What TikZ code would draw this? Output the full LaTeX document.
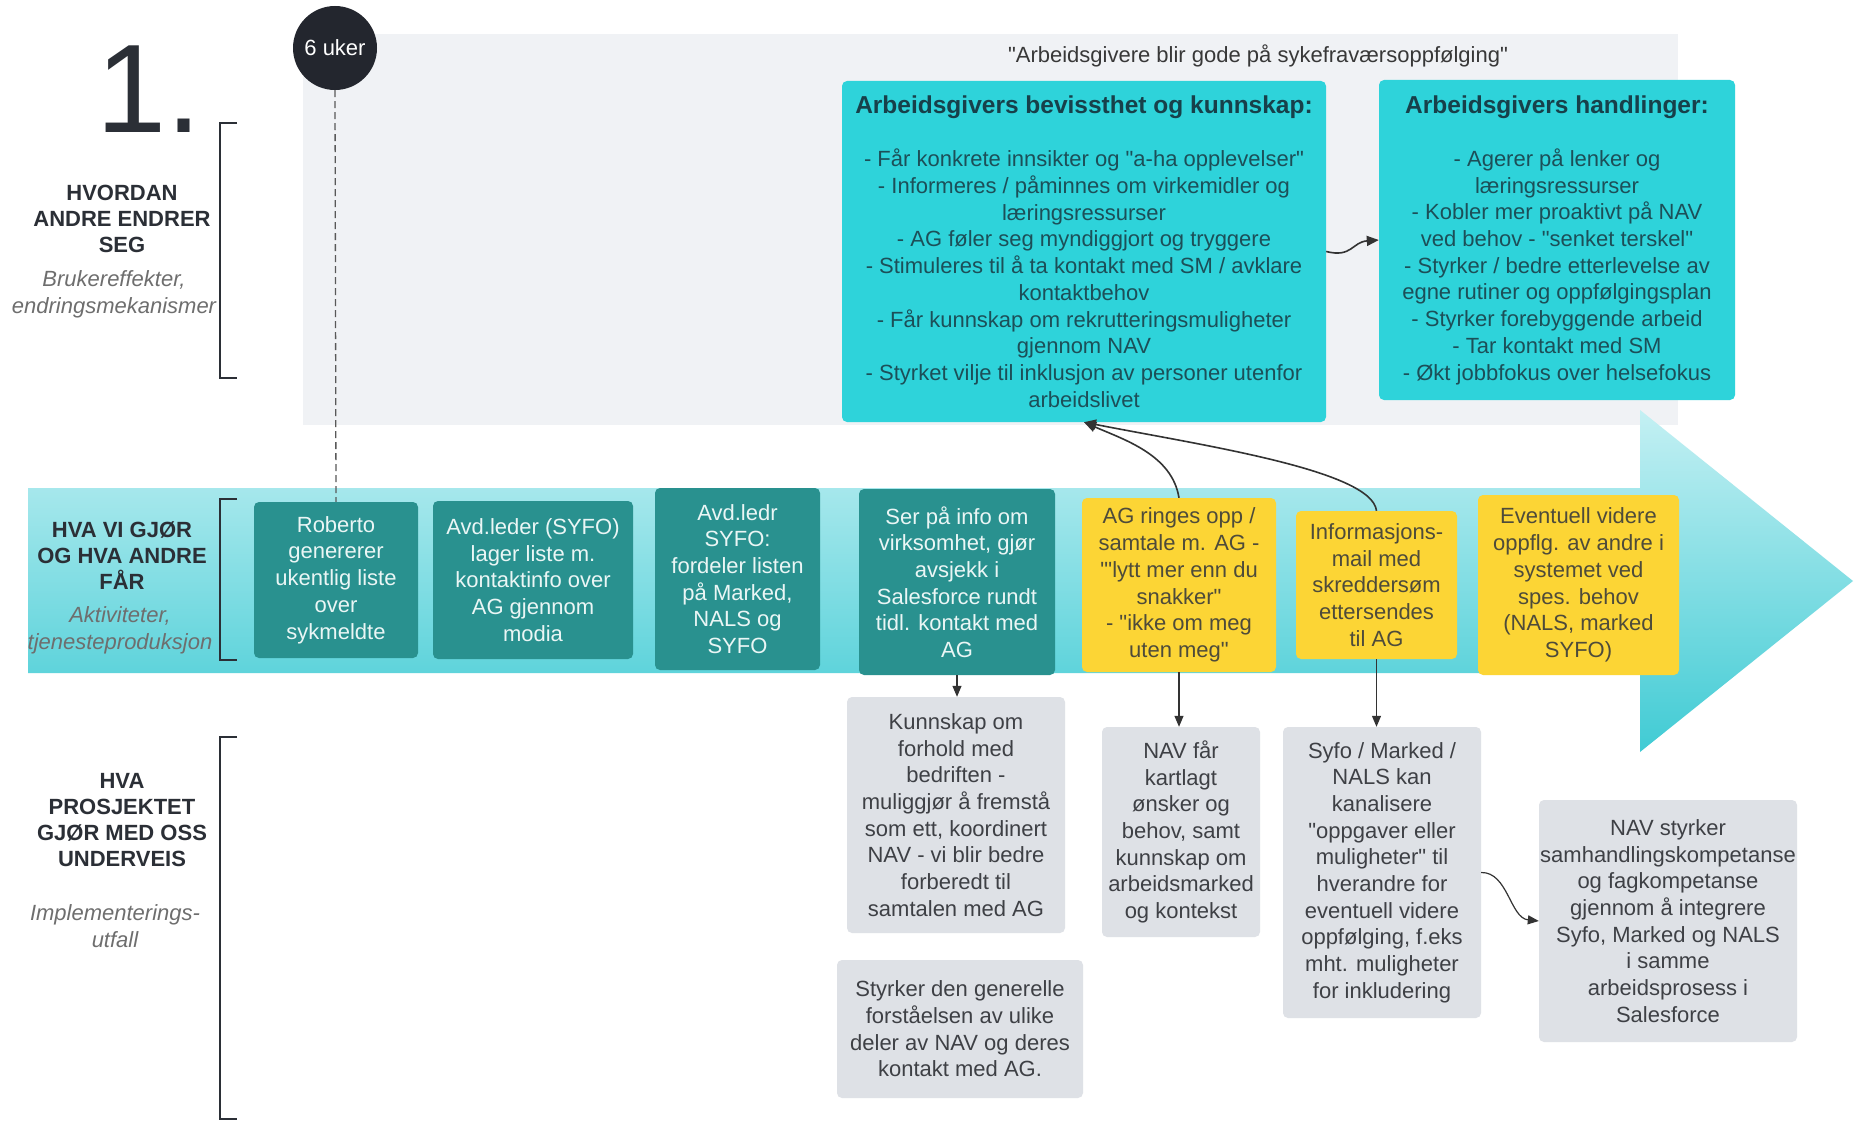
\documentclass[tikz,border=0pt]{standalone}
\usepackage{fontspec}
\setmainfont{Liberation Sans}[Ligatures=TeXOff]
\usetikzlibrary{arrows.meta}
\definecolor{grayreg}{HTML}{F0F2F5}
\definecolor{turq}{HTML}{2ED3DA}
\definecolor{turqtxt}{HTML}{1C4F58}
\definecolor{turqtitle}{HTML}{17404A}
\definecolor{tealc}{HTML}{29918F}
\definecolor{tealtxt}{HTML}{EAF6F5}
\definecolor{yel}{HTML}{FCD535}
\definecolor{yeltxt}{HTML}{4E4B3A}
\definecolor{grb}{HTML}{DEE1E6}
\definecolor{grbtxt}{HTML}{3E4045}
\definecolor{circc}{HTML}{23262E}
\definecolor{lbl}{HTML}{2B2F36}
\definecolor{subc}{HTML}{6E6E6E}
\definecolor{bandtop}{HTML}{C4F0F3}
\definecolor{bandbot}{HTML}{40CBD4}
\definecolor{arrc}{HTML}{333333}
\newcommand\bodyfnt{\fontsize{22}{26.7}\selectfont}
\newcommand\titlefnt{\fontsize{24.5}{26.7}\selectfont\bfseries}
\tikzset{
  boxbase/.style={rounded corners=5pt, inner sep=0pt, align=center, font=\bodyfnt},
  turqbox/.style={boxbase, fill=turq, text=turqtxt},
  tealbox/.style={boxbase, fill=tealc, text=tealtxt},
  yelbox/.style={boxbase, fill=yel, text=yeltxt},
  grbox/.style={boxbase, fill=grb, text=grbtxt},
  seclbl/.style={align=center, inner sep=0pt, text=lbl, font=\fontsize{22}{26}\selectfont\bfseries},
  sublbl/.style={align=center, inner sep=0pt, text=subc, font=\fontsize{22}{27}\selectfont\itshape},
  brk/.style={draw=lbl, line width=2pt},
  arr/.style={draw=arrc, line width=1.6pt, -{Triangle[length=12pt,width=10pt]}},
  arrthin/.style={draw=arrc, line width=1.2pt, -{Triangle[length=11pt,width=9pt]}},
  dashln/.style={draw=black!65, line width=1.3pt, dash pattern=on 7pt off 4pt}
}
\begin{document}
\begin{tikzpicture}[x=1pt,y=-1pt]
\useasboundingbox (0,0) rectangle (1856,1121);
\fill[white] (0,0) rectangle (1856,1121);
% background region
\fill[grayreg] (303,34) rectangle (1678,425);
% band arrow
\shade[top color=bandtop, bottom color=bandbot]
  (28,488) -- (1640,488) -- (1640,410) -- (1853,581) -- (1640,752) -- (1640,673) -- (28,673) -- cycle;
% quote
\node[inner sep=0pt, text=black!78, font=\fontsize{22}{24}\selectfont] (quote) at (1258,56)
  {"Arbeidsgivere blir gode på sykefraværsoppfølging"};
% big number
\node[anchor=base west, inner sep=0pt, text=lbl, font=\fontsize{126}{126}\selectfont] (num) at (96,133) {1.};
% circle
\node[circle, fill=circc, minimum size=84, inner sep=0pt, text=white, font=\fontsize{22}{24}\selectfont] (c6) at (335,48) {6 uker};
% section labels
\node[seclbl] (l1) at (122,218.5) {HVORDAN\\ANDRE ENDRER\\SEG};
\node[sublbl] (s1) at (114,294.5) {Brukereffekter,\\endringsmekanismer};
\node[seclbl] (l2) at (122,556) {HVA VI GJØR\\OG HVA ANDRE\\FÅR};
\node[sublbl] (s2) at (120,630.5) {Aktiviteter,\\tjenesteproduksjon};
\node[seclbl] (l3) at (122,820) {HVA\\PROSJEKTET\\GJØR MED OSS\\UNDERVEIS};
\node[sublbl] (s3) at (115,926.5) {Implementerings-\\utfall};
% brackets
\draw[brk] (237,123) -| (220,378) -- (237,378);
\draw[brk] (237,499) -| (220,660) -- (237,660);
\draw[brk] (237,737) -| (220,1119) -- (237,1119);
% top boxes
\node[turqbox, minimum width=484, minimum height=341] (A) at (1084,251.5)
  {{\titlefnt\color{turqtitle}Arbeidsgivers bevissthet og kunnskap:}\\[26.7pt]
   - Får konkrete innsikter og "a-ha opplevelser"\\
   - Informeres / påminnes om virkemidler og\\
   læringsressurser\\
   - AG føler seg myndiggjort og tryggere\\
   - Stimuleres til å ta kontakt med SM / avklare\\
   kontaktbehov\\
   - Får kunnskap om rekrutteringsmuligheter\\
   gjennom NAV\\
   - Styrket vilje til inklusjon av personer utenfor\\
   arbeidslivet};
\node[turqbox, minimum width=356, minimum height=320] (B) at (1557,240)
  {{\titlefnt\color{turqtitle}Arbeidsgivers handlinger:}\\[26.7pt]
   - Agerer på lenker og\\
   læringsressurser\\
   - Kobler mer proaktivt på NAV\\
   ved behov - "senket terskel"\\
   - Styrker / bedre etterlevelse av\\
   egne rutiner og oppfølgingsplan\\
   - Styrker forebyggende arbeid\\
   - Tar kontakt med SM\\
   - Økt jobbfokus over helsefokus};
% band boxes
\node[tealbox, minimum width=164, minimum height=156] (b1) at (336,580)
  {Roberto\\genererer\\ukentlig liste\\over\\sykmeldte};
\node[tealbox, minimum width=200, minimum height=158] (b2) at (533,580)
  {Avd.leder (SYFO)\\lager liste m.\\kontaktinfo over\\AG gjennom\\modia};
\node[tealbox, minimum width=165, minimum height=182] (b3) at (737.5,579)
  {Avd.ledr\\SYFO:\\fordeler listen\\på Marked,\\NALS og\\SYFO};
\node[tealbox, minimum width=196, minimum height=186] (b4) at (957,582)
  {Ser på info om\\virksomhet, gjør\\avsjekk i\\Salesforce rundt\\tidl. kontakt med\\AG};
\node[yelbox, minimum width=194, minimum height=174] (b5) at (1179,585)
  {AG ringes opp /\\samtale m. AG -\\"'lytt mer enn du\\snakker"\\- "ikke om meg\\uten meg"};
\node[yelbox, minimum width=161, minimum height=148] (b6) at (1376.5,585)
  {Informasjons-\\mail med\\skreddersøm\\ettersendes\\til AG};
\node[yelbox, minimum width=201, minimum height=180] (b7) at (1578.5,585)
  {Eventuell videre\\oppflg. av andre i\\systemet ved\\spes. behov\\(NALS, marked\\SYFO)};
% gray boxes
\node[grbox, minimum width=218, minimum height=236] (g1) at (956,815)
  {Kunnskap om\\forhold med\\bedriften -\\muliggjør å fremstå\\som ett, koordinert\\NAV - vi blir bedre\\forberedt til\\samtalen med AG};
\node[grbox, minimum width=246, minimum height=138] (g2) at (960,1029)
  {Styrker den generelle\\forståelsen av ulike\\deler av NAV og deres\\kontakt med AG.};
\node[grbox, minimum width=158, minimum height=210] (g3) at (1181,832)
  {NAV får\\kartlagt\\ønsker og\\behov, samt\\kunnskap om\\arbeidsmarked\\og kontekst};
\node[grbox, minimum width=198, minimum height=291] (g4) at (1382,872.5)
  {Syfo / Marked /\\NALS kan\\kanalisere\\"oppgaver eller\\muligheter" til\\hverandre for\\eventuell videre\\oppfølging, f.eks\\mht. muligheter\\for inkludering};
\node[grbox, minimum width=258, minimum height=242] (g5) at (1668,921)
  {NAV styrker\\samhandlingskompetanse\\og fagkompetanse\\gjennom å integrere\\Syfo, Marked og NALS\\i samme\\arbeidsprosess i\\Salesforce};
% connectors
\draw[dashln] (c6.south) -- (b1.north);
\draw[arr] (A.east) .. controls (1352,258) and (1352,242) .. (B.west);
\draw[arr] (b5.north) .. controls (1172,455) and (1125,440) .. (A.south);
\draw[arr] (b6.north) .. controls (1372,470) and (1200,445) .. (A.south);
\draw[arrthin] (b4.south) -- (b4.south |- g1.north);
\draw[arrthin] (b5.south) -- (b5.south |- g3.north);
\draw[arrthin] (b6.south) -- (b6.south |- g4.north);
\draw[arrthin] (g4.east) .. controls (1508,872) and (1510,918) .. (g5.west);
\end{tikzpicture}
\end{document}
